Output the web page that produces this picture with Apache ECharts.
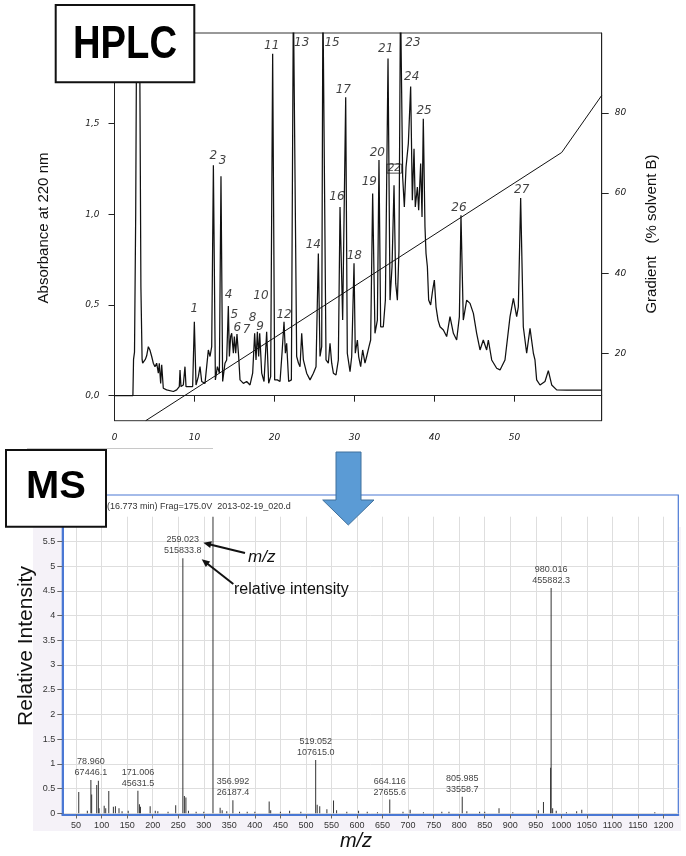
<!DOCTYPE html>
<html><head><meta charset="utf-8">
<script src="https://cdn.jsdelivr.net/npm/echarts@6/dist/echarts.min.js"></script>
<style>html,body{margin:0;padding:0;background:#fff}#c{width:686px;height:856px}</style>
</head><body><div id="c"></div>
<script>
// ---------- HPLC chromatogram (time in min, absorbance at 220 nm) ----------
const hplcTrace = [
[0,0],[2.3,0],[2.38,0.2],[2.5,0.24],[2.65,1.0],[2.78,2.2],[3.12,2.2],[3.3,0.6],[3.45,0.2],[3.52,0.18],
[3.69,0.17],[3.85,0.2],[4.02,0.22],[4.23,0.27],[4.44,0.25],[4.65,0.216],[4.85,0.179],[5.06,0.16],[5.27,0.179],[5.48,0.124],
[5.6,0.179],[5.77,0.068],[5.9,0.17],[6.1,0.041],[6.52,0.032],[7.36,0.023],[7.77,0.032],[8.1,0.05],[8.19,0.142],[8.31,0.05],
[8.6,0.059],[8.81,0.16],[8.94,0.05],[9.44,0.05],[9.77,0.05],[9.98,0.408],[10.19,0.059],[10.48,0.105],[10.69,0.16],[10.9,0.078],
[11.31,0.068],[11.73,0.252],[11.94,0.216],[12.15,0.271],[12.36,1.27],[12.61,0.087],[12.86,0.16],[13.11,0.124],[13.31,1.21],[13.52,0.078],
[13.81,0.179],[14.02,0.197],[14.23,0.494],[14.36,0.216],[14.52,0.326],[14.65,0.344],[14.86,0.234],[14.98,0.326],[15.15,0.234],[15.31,0.34],
[15.52,0.216],[15.69,0.087],[16.11,0.068],[16.52,0.078],[16.94,0.059],[17.27,0.124],[17.52,0.344],[17.69,0.197],[17.86,0.353],[18.02,0.216],
[18.15,0.344],[18.4,0.124],[18.69,0.078],[19.02,0.353],[19.27,0.068],[19.52,0.105],[19.77,1.885],[20.02,0.087],[20.36,0.087],[20.69,0.078],
[20.94,0.234],[21.19,0.408],[21.36,0.234],[21.52,0.289],[21.77,0.078],[22.11,0.087],[22.36,2.2],[22.6,2.2],[22.77,0.216],[23.0,0.179],
[23.19,0.16],[23.4,0.344],[23.61,0.197],[24.02,0.124],[24.44,0.087],[24.86,0.124],[25.19,0.16],[25.48,0.784],[25.69,0.216],[25.9,0.271],
[26.05,2.2],[26.2,2.2],[26.44,0.197],[26.73,0.179],[26.94,0.289],[27.15,0.179],[27.36,0.124],[27.69,0.114],[27.98,0.197],[28.19,1.041],
[28.52,0.417],[28.9,1.646],[29.1,0.234],[29.44,0.133],[29.65,0.216],[29.94,0.73],[30.1,0.234],[30.36,0.307],[30.52,0.216],[30.77,0.16],
[31.02,0.252],[31.31,0.179],[31.52,0.216],[31.81,0.271],[32.02,0.307],[32.27,1.115],[32.56,0.344],[32.86,0.417],[33.06,1.30],[33.27,0.38],
[33.6,0.38],[33.86,0.527],[34.19,1.86],[34.44,0.527],[34.69,0.711],[34.94,1.16],[35.15,0.619],[35.36,0.527],[35.56,0.802],[35.75,2.2],
[35.85,2.2],[36.02,1.206],[36.23,1.041],[36.44,1.26],[36.73,1.39],[37.02,1.705],[37.23,1.078],[37.44,1.362],[37.6,1.041],[37.86,1.151],
[38.02,1.023],[38.27,1.28],[38.44,0.986],[38.6,1.527],[38.81,0.931],[38.94,0.784],[39.11,0.711],[39.27,0.527],[39.52,0.5],[39.77,0.582],
[39.98,0.637],[40.19,0.49],[40.44,0.417],[40.69,0.38],[41.11,0.362],[41.52,0.326],[41.94,0.436],[42.36,0.344],[42.77,0.307],[43.11,0.436],
[43.31,0.995],[43.6,0.417],[44.02,0.527],[44.44,0.509],[44.86,0.454],[45.27,0.344],[45.69,0.252],[46.1,0.307],[46.52,0.252],[46.73,0.307],
[47.15,0.197],[47.77,0.151],[48.19,0.142],[48.81,0.197],[49.44,0.436],[49.86,0.536],[50.27,0.436],[50.48,0.49],[50.77,1.09],[51.1,0.38],
[51.52,0.234],[51.94,0.371],[52.36,0.234],[52.56,0.197],[52.77,0.087],[53.19,0.059],[53.81,0.078],[54.23,0.138],[54.65,0.059],[55.27,0.032],
[56.52,0.03],[60.9,0.03]
];
const gradientTime = [3.9, 55.9, 60.9];
const gradientPct = [3.15, 70.15, 84.4];
const hplcTimeTicks = [0, 10, 20, 30, 40, 50];
const hplcAbsTicks = [0, 0.5, 1.0, 1.5];
const hplcGradTicks = [20, 40, 60, 80];
const peakNames = ['1','2','3','4','5','6','7','8','9','10','11','12','13','14','15','16','17','18','19','20','21','22','23','24','25','26','27'];
const peakLabelTime = [9.98,12.35,13.5,14.27,14.98,15.35,16.5,17.27,18.19,18.3,19.65,21.2,23.4,24.85,27.2,27.8,28.6,29.98,31.85,32.85,33.9,34.98,37.3,37.15,38.7,43.06,50.9];
const peakLabelAbs = [0.48,1.325,1.294,0.558,0.444,0.374,0.365,0.43,0.38,0.55,1.93,0.444,1.946,0.834,1.946,1.096,1.687,0.769,1.178,1.338,1.913,1.252,1.946,1.757,1.568,1.037,1.133];

// ---------- MS spectrum (m/z, relative intensity x10^5) ----------
const msMz = [55.2,72,80.5,90.4,93.6,95,105,108,114,123,127,134,140,152,174,176,195,205,210,230,245,262,265,270,285,300,318,332,336,345,370,385,400,428,431,450,468,490,522,527,541,554,560,580,603,620,640,690,704,730,766,780,815,840,850,878,905,955,965,979,983,990,1010,1030,1040,1183];
const msIntensity = [0.43,0.05,0.38,0.57,0.66,0.1,0.15,0.1,0.45,0.13,0.14,0.1,0.04,0.05,0.18,0.13,0.14,0.05,0.04,0.03,0.16,0.35,0.32,0.05,0.03,0.03,6.5,0.11,0.06,0.04,0.03,0.03,0.03,0.24,0.06,0.03,0.05,0.03,0.17,0.14,0.08,0.26,0.06,0.03,0.05,0.03,0.02,0.03,0.07,0.02,0.03,0.03,0.04,0.03,0.03,0.1,0.02,0.06,0.23,0.92,0.1,0.05,0.02,0.04,0.07,0.02];
const msLabelMz = [78.960, 171.006, 259.023, 356.992, 519.052, 664.116, 805.985, 980.016];
const msLabelIntensity = [67446.1, 45631.5, 515833.8, 26187.4, 107615.0, 27655.6, 33558.7, 455882.3];
const msMzTicks = [50,100,150,200,250,300,350,400,450,500,550,600,650,700,750,800,850,900,950,1000,1050,1100,1150,1200];
const msIntTicks = [0,0.5,1,1.5,2,2.5,3,3.5,4,4.5,5,5.5];

const chart = echarts.init(document.getElementById('c'), null, {renderer:'canvas', width:686, height:856});

const italicLbl = {fontStyle:'italic', fontFamily:'DejaVu Sans', fontSize:9, color:'#222'};
const msLbl = {fontFamily:'Liberation Sans', fontSize:9, color:'#333', formatter:v=>String(v)};
const blue = '#4a78d4';

const msData = msMz.map((m,i)=>({value:[m, msIntensity[i]]}));
msLabelMz.forEach((m,i)=>{
  msData.push({value:[m, msLabelIntensity[i]/1e5],
    label:{show:true, position:'top', distance:2, formatter: m.toFixed(3)+'\n'+msLabelIntensity[i].toFixed(1),
      fontFamily:'Liberation Sans', fontSize:9, lineHeight:11, color:'#444'}});
});

const peakData = peakNames.map((n,i)=>{
  const d = {value:[peakLabelTime[i], peakLabelAbs[i]], name:n};
  if (n === '22') d.label = {borderColor:'#222', borderWidth:1, padding:[0,1,-1,1], fontSize:10};
  return d;
});

function arrowHead(tx,ty,fx,fy){
  const dx=tx-fx, dy=ty-fy, L=Math.hypot(dx,dy), ux=dx/L, uy=dy/L, bx=tx-8*ux, by=ty-8*uy, nx=-uy, ny=ux;
  return [[tx,ty],[bx+3.5*nx,by+3.5*ny],[bx-3.5*nx,by-3.5*ny]];
}

const option = {
  backgroundColor:'#fff',
  animation:false,
  grid:[
    {left:114.5, top:33, width:487.2, height:387.7, show:true, borderColor:'#333', borderWidth:1, backgroundColor:'transparent', outerBoundsMode:'none'},
    {left:62.3, top:516.7, width:616, height:297.8, show:false, outerBoundsMode:'none'}
  ],
  xAxis:[
    {type:'value', gridIndex:0, min:0, max:60.9,
     axisLine:{show:true, lineStyle:{color:'#222', width:1}},
     axisTick:{show:true, inside:false, length:6, customValues:hplcTimeTicks, lineStyle:{color:'#222'}},
     axisLabel:Object.assign({customValues:hplcTimeTicks, margin:12}, italicLbl),
     splitLine:{show:false}},
    {type:'value', gridIndex:1, min:23, max:1229,
     axisLine:{show:true, onZero:false, lineStyle:{color:blue, width:2}},
     axisTick:{show:true, inside:false, length:4, customValues:msMzTicks, lineStyle:{color:'#666'}},
     axisLabel:Object.assign({customValues:msMzTicks, margin:7}, msLbl),
     splitLine:{show:true, lineStyle:{color:'#dedede', width:1}}}
  ],
  yAxis:[
    {type:'value', gridIndex:0, position:'left', min:-0.138, max:2.0,
     axisLine:{show:true, lineStyle:{color:'#222', width:1}},
     axisTick:{show:true, inside:false, length:6, customValues:hplcAbsTicks, lineStyle:{color:'#222'}},
     axisLabel:Object.assign({customValues:hplcAbsTicks, margin:15, formatter:v=>v.toFixed(1).replace('.',',')}, italicLbl),
     splitLine:{show:false}},
    {type:'value', gridIndex:0, position:'right', min:3.15, max:100,
     axisLine:{show:true, lineStyle:{color:'#222', width:1}},
     axisTick:{show:true, inside:false, length:7, customValues:hplcGradTicks, lineStyle:{color:'#222'}},
     axisLabel:Object.assign({customValues:hplcGradTicks, margin:13}, italicLbl),
     splitLine:{show:false}},
    {type:'value', gridIndex:1, min:-0.025, max:6.0,
     axisLine:{show:true, onZero:false, lineStyle:{color:blue, width:2}},
     axisTick:{show:true, inside:false, length:5, customValues:msIntTicks, lineStyle:{color:'#666'}},
     axisLabel:Object.assign({customValues:msIntTicks, margin:7}, msLbl),
     splitLine:{show:true, lineStyle:{color:'#dedede', width:1}}}
  ],
  series:[
    {type:'line', xAxisIndex:0, yAxisIndex:0, data:hplcTrace, symbol:'none', clip:true,
     lineStyle:{color:'#111', width:1.25}, z:3},
    {type:'line', xAxisIndex:0, yAxisIndex:1, data:gradientTime.map((t,i)=>[t, gradientPct[i]]), symbol:'none', clip:true,
     lineStyle:{color:'#111', width:1}, z:3},
    {type:'scatter', xAxisIndex:0, yAxisIndex:0, data:peakData, symbolSize:1, itemStyle:{color:'transparent'},
     label:{show:true, position:'inside', formatter:p=>p.name, fontStyle:'italic', fontFamily:'DejaVu Sans', fontSize:12, color:'#111'}, z:5},
    {type:'bar', xAxisIndex:1, yAxisIndex:2, data:msData, barWidth:1, clip:true,
     itemStyle:{color:'#333'}, z:3}
  ],
  graphic:[
    {type:'rect', z:-10, shape:{x:33, y:527, width:648, height:304}, style:{fill:'#f5f2f8'}},
    {type:'rect', z:-9, shape:{x:62.3, y:495, width:616, height:319.5}, style:{fill:'#fff', stroke:blue, lineWidth:1.2}},
    {type:'text', z:50, x:107, y:507, style:{text:'(16.773 min) Frag=175.0V  2013-02-19_020.d', fontFamily:'Liberation Sans', fontSize:9, fill:'#333', verticalAlign:'middle', textVerticalAlign:'middle'}},
    {type:'line', z:-5, shape:{x1:27, y1:448.5, x2:213, y2:448.5}, style:{stroke:'#c8c8c8', lineWidth:1}},
    {type:'text', z:50, x:44, y:228, rotation:Math.PI/2, style:{text:'Absorbance at 220 nm', fontFamily:'Liberation Sans', fontSize:15, fill:'#111', align:'center', verticalAlign:'middle', textAlign:'center', textVerticalAlign:'middle'}},
    {type:'text', z:50, x:652, y:234, rotation:Math.PI/2, style:{text:'Gradient   (% solvent B)', fontFamily:'Liberation Sans', fontSize:15, fill:'#111', align:'center', verticalAlign:'middle', textAlign:'center', textVerticalAlign:'middle'}},
    {type:'text', z:50, x:26, y:646, rotation:Math.PI/2, style:{text:'Relative Intensity', fontFamily:'Liberation Sans', fontSize:21, fill:'#111', align:'center', verticalAlign:'middle', textAlign:'center', textVerticalAlign:'middle'}},
    {type:'text', z:50, x:356, y:841, style:{text:'m/z', fontFamily:'Liberation Sans', fontStyle:'italic', fontSize:20, fill:'#111', align:'center', verticalAlign:'middle', textAlign:'center', textVerticalAlign:'middle'}},
    {type:'text', z:50, x:248, y:557, style:{text:'m/z', fontFamily:'Liberation Sans', fontStyle:'italic', fontSize:17, fill:'#111', verticalAlign:'middle', textVerticalAlign:'middle'}},
    {type:'text', z:50, x:234, y:590, style:{text:'relative intensity', fontFamily:'Liberation Sans', fontSize:16, fill:'#111', verticalAlign:'middle', textVerticalAlign:'middle'}},
    {type:'line', z:50, shape:{x1:245, y1:553, x2:209, y2:544.2}, style:{stroke:'#111', lineWidth:2}},
    {type:'polygon', z:50, shape:{points:arrowHead(203.3,542.7,245,553)}, style:{fill:'#111'}},
    {type:'line', z:50, shape:{x1:233.3, y1:584, x2:206.5, y2:563}, style:{stroke:'#111', lineWidth:2}},
    {type:'polygon', z:50, shape:{points:arrowHead(201.7,559.3,233.3,584)}, style:{fill:'#111'}},
    {type:'polygon', z:60, shape:{points:[[336,452],[361,452],[361,500],[374,500],[348.3,525],[322.7,500],[336,500]]}, style:{fill:'#5b9bd5', stroke:'#41719c', lineWidth:1}},
    {type:'rect', z:60, shape:{x:55.7, y:5, width:138.6, height:77.3}, style:{fill:'#fff', stroke:'#111', lineWidth:2}},
    {type:'text', z:61, x:125, y:45, scaleX:0.83, style:{text:'HPLC', fontFamily:'Liberation Sans', fontWeight:'bold', fontSize:46, fill:'#000', align:'center', verticalAlign:'middle', textAlign:'center', textVerticalAlign:'middle'}},
    {type:'rect', z:60, shape:{x:6, y:450, width:100, height:76.7}, style:{fill:'#fff', stroke:'#111', lineWidth:2}},
    {type:'text', z:61, x:56, y:488, scaleX:1.05, style:{text:'MS', fontFamily:'Liberation Sans', fontWeight:'bold', fontSize:38, fill:'#000', align:'center', verticalAlign:'middle', textAlign:'center', textVerticalAlign:'middle'}}
  ]
};
chart.setOption(option);
</script></body></html>
